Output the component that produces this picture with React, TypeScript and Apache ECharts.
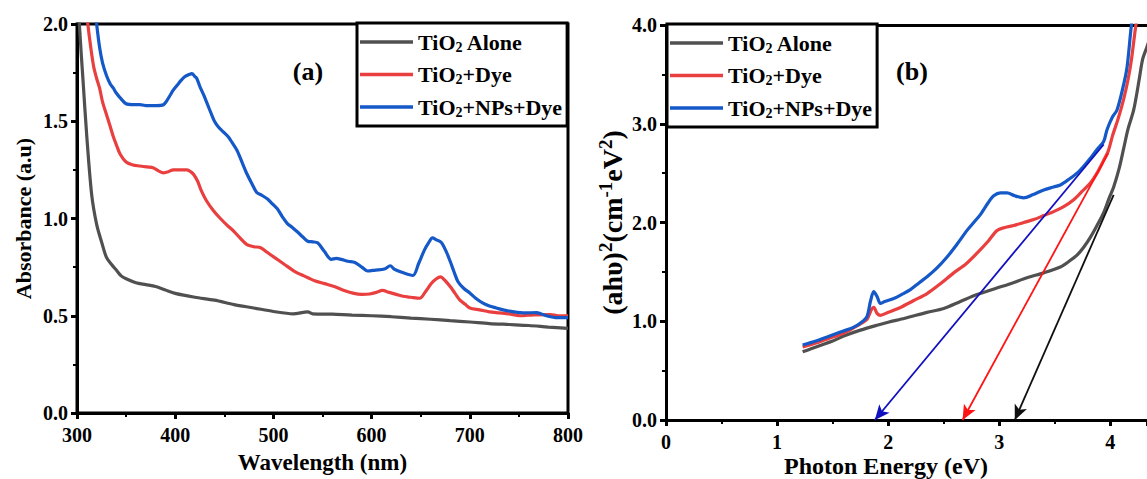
import React, { useEffect, useRef } from "react";
import * as echarts from "echarts";

const FONT = '"Liberation Serif", "Times New Roman", serif';

const SERIES_NAMES = ["TiO2 Alone", "TiO2+Dye", "TiO2+NPs+Dye"];
const LEGEND_LABELS: Record<string, string> = {
  "TiO2 Alone": "{b|TiO}{s|2}{b| Alone}",
  "TiO2+Dye": "{b|TiO}{s|2}{b|+Dye}",
  "TiO2+NPs+Dye": "{b|TiO}{s|2}{b|+NPs+Dye}",
};
const COLORS = ["#505050", "#ea3f3f", "#1558c8"];
const ARROW_COLORS = ["#101010", "#ff1414", "#1010c0"];

// (a) UV-Vis absorbance: wavelength (nm) vs absorbance (a.u.)
const wlAlone = [300, 301, 303, 306, 310, 315, 320, 325, 330, 335, 340, 345, 350, 360, 370, 380, 390, 400, 420, 440, 460, 480, 500, 520, 535, 540, 560, 580, 600, 620, 640, 660, 680, 700, 720, 740, 760, 780, 800];
const absAlone = [2.5, 2.15, 1.95, 1.72, 1.42, 1.12, 0.97, 0.88, 0.8, 0.765, 0.735, 0.705, 0.69, 0.67, 0.66, 0.65, 0.632, 0.615, 0.595, 0.58, 0.557, 0.54, 0.522, 0.51, 0.52, 0.51, 0.508, 0.503, 0.5, 0.495, 0.488, 0.482, 0.475, 0.468, 0.46, 0.455, 0.45, 0.442, 0.435];

const wlDye = [309, 311, 314, 317, 320, 323, 326, 330, 334, 337, 340, 344, 350, 357, 364, 371, 378, 383, 388, 393, 398, 405, 412, 416, 419, 423, 426, 432, 439, 446, 453, 460, 466, 473, 480, 487, 494, 501, 511, 521, 531, 542, 552, 562, 572, 582, 590, 598, 605, 611, 618, 625, 632, 640, 649, 655, 661, 666, 670, 675, 680, 685, 690, 695, 700, 710, 720, 730, 740, 751, 765, 782, 790, 800];
const absDye = [2.1, 2.0, 1.88, 1.78, 1.72, 1.67, 1.6, 1.535, 1.47, 1.42, 1.38, 1.33, 1.29, 1.275, 1.27, 1.265, 1.26, 1.245, 1.235, 1.24, 1.25, 1.25, 1.25, 1.24, 1.225, 1.19, 1.15, 1.09, 1.04, 1.0, 0.965, 0.933, 0.9, 0.866, 0.855, 0.85, 0.825, 0.8, 0.765, 0.73, 0.705, 0.68, 0.665, 0.65, 0.63, 0.615, 0.61, 0.612, 0.62, 0.63, 0.62, 0.61, 0.6, 0.595, 0.59, 0.625, 0.667, 0.69, 0.7, 0.68, 0.65, 0.615, 0.58, 0.56, 0.54, 0.53, 0.52, 0.515, 0.51, 0.5, 0.505, 0.506, 0.5, 0.5];

const wlNPs = [318, 320, 323, 326, 330, 334, 337, 340, 344, 350, 357, 364, 372, 381, 388, 392, 395, 398, 402, 406, 410, 414, 417, 420, 422, 425, 429, 433, 437, 440, 444, 449, 454, 458, 463, 468, 473, 478, 483, 488, 494, 499, 504, 509, 514, 519, 524, 530, 535, 540, 545, 552, 559, 564, 569, 576, 583, 590, 596, 604, 613, 619, 623, 630, 642, 648, 654, 658, 662, 666, 671, 676, 680, 684, 688, 694, 700, 706, 713, 720, 727, 734, 745, 756, 768, 778, 789, 800];
const absNPs = [2.1, 2.0, 1.88, 1.8, 1.735, 1.69, 1.67, 1.645, 1.62, 1.59, 1.585, 1.585, 1.58, 1.58, 1.585, 1.61, 1.635, 1.66, 1.685, 1.71, 1.73, 1.74, 1.745, 1.73, 1.72, 1.68, 1.635, 1.585, 1.535, 1.5, 1.47, 1.445, 1.42, 1.39, 1.35, 1.29, 1.23, 1.18, 1.134, 1.12, 1.1, 1.075, 1.05, 1.01, 0.975, 0.955, 0.933, 0.905, 0.883, 0.88, 0.875, 0.83, 0.79, 0.795, 0.79, 0.78, 0.774, 0.75, 0.73, 0.735, 0.74, 0.757, 0.74, 0.725, 0.707, 0.77, 0.84, 0.875, 0.9, 0.89, 0.877, 0.83, 0.78, 0.725, 0.675, 0.64, 0.617, 0.59, 0.566, 0.55, 0.54, 0.53, 0.52, 0.515, 0.516, 0.5, 0.49, 0.49];

// (b) Tauc plot: photon energy (eV) vs (ahv)^2
const eAlone = [1.23, 1.3, 1.4, 1.5, 1.6, 1.75, 1.9, 2.0, 2.15, 2.35, 2.5, 2.65, 2.8, 2.96, 3.1, 3.25, 3.4, 3.55, 3.62, 3.7, 3.76, 3.82, 3.88, 3.94, 3.99, 4.03, 4.08, 4.12, 4.16, 4.21, 4.26, 4.29, 4.33, 4.38];
const tAlone = [0.69, 0.72, 0.76, 0.8, 0.85, 0.91, 0.96, 0.99, 1.03, 1.09, 1.13, 1.2, 1.27, 1.33, 1.38, 1.44, 1.49, 1.55, 1.6, 1.67, 1.75, 1.85, 1.97, 2.1, 2.25, 2.36, 2.55, 2.75, 2.95, 3.14, 3.45, 3.65, 3.78, 3.95];

const eDye = [1.23, 1.35, 1.5, 1.6, 1.7, 1.76, 1.81, 1.85, 1.87, 1.9, 1.93, 2.0, 2.11, 2.23, 2.35, 2.47, 2.59, 2.7, 2.8, 2.9, 2.98, 3.05, 3.13, 3.22, 3.31, 3.4, 3.49, 3.58, 3.67, 3.75, 3.82, 3.88, 3.94, 3.98, 4.02, 4.07, 4.12, 4.16, 4.19, 4.23, 4.26];
const tDye = [0.74, 0.78, 0.84, 0.88, 0.94, 0.98, 1.02, 1.12, 1.14, 1.08, 1.06, 1.09, 1.14, 1.21, 1.28, 1.38, 1.49, 1.58, 1.69, 1.81, 1.92, 1.95, 1.97, 2.0, 2.03, 2.07, 2.11, 2.16, 2.23, 2.32, 2.4, 2.5, 2.63, 2.72, 2.88, 3.05, 3.25, 3.45, 3.65, 4.0, 4.2];

const eNPs = [1.23, 1.35, 1.45, 1.57, 1.69, 1.76, 1.81, 1.84, 1.87, 1.9, 1.93, 1.97, 2.05, 2.12, 2.2, 2.28, 2.35, 2.44, 2.53, 2.62, 2.71, 2.77, 2.83, 2.9, 2.95, 3.01, 3.07, 3.14, 3.22, 3.3, 3.4, 3.49, 3.55, 3.63, 3.7, 3.76, 3.82, 3.88, 3.94, 3.97, 4.02, 4.06, 4.11, 4.15, 4.19, 4.22];
const tNPs = [0.76, 0.8, 0.84, 0.89, 0.94, 0.99, 1.05, 1.2, 1.3, 1.25, 1.18, 1.2, 1.23, 1.27, 1.32, 1.39, 1.45, 1.54, 1.65, 1.78, 1.92, 2.0, 2.08, 2.2, 2.27, 2.3, 2.3, 2.27, 2.25, 2.28, 2.33, 2.36, 2.38, 2.44, 2.5, 2.57, 2.65, 2.74, 2.82, 2.94, 3.07, 3.14, 3.35, 3.57, 4.0, 4.2];

// Extrapolation arrows [start, end] for each series (eV, (ahv)^2)
const arrowAlone = [[4.03, 2.28], [3.14, 0]];
const arrowDye = [[3.98, 2.7], [2.67, 0]];
const arrowNPs = [[3.94, 2.79], [1.88, 0]];

const E_MAX = 4.33;

const pairs = (xs: number[], ys: number[]) => xs.map((x, i) => [x, ys[i]]);

const tickLabel = (fmt?: (v: number) => string) => ({
  color: "#000",
  fontFamily: FONT,
  fontWeight: "bold" as const,
  fontSize: 20,
  formatter: fmt,
});

const axisCommon = {
  axisLine: { show: true, onZero: false, lineStyle: { color: "#000", width: 3 } },
  axisTick: { show: true, length: 6, lineStyle: { color: "#000", width: 3 } },
  minorTick: { show: true, splitNumber: 2, length: 4, lineStyle: { color: "#000", width: 2 } },
  splitLine: { show: false },
};

const legendRich = {
  b: { fontFamily: FONT, fontWeight: "bold" as const, fontSize: 22, color: "#000", lineHeight: 24 },
  s: { fontFamily: FONT, fontWeight: "bold" as const, fontSize: 14, color: "#000", padding: [10, 0, 0, 0], lineHeight: 14 },
};

const makeLegend = (left: number, top: number) => ({
  orient: "vertical" as const,
  left,
  top,
  data: SERIES_NAMES,
  icon: "rect",
  itemWidth: 53,
  itemHeight: 3.5,
  itemGap: 8.5,
  padding: [7, 5, 7, 3],
  borderColor: "#000",
  borderWidth: 3,
  backgroundColor: "#fff",
  selectedMode: false,
  formatter: (name: string) => LEGEND_LABELS[name],
  textStyle: { rich: legendRich, lineHeight: 24 },
});

const lineSeries = (name: string, idx: number, data: number[][], axis: number, arrow?: number[][]) => {
  const s: any = {
    name,
    type: "line",
    xAxisIndex: axis,
    yAxisIndex: axis,
    data,
    showSymbol: false,
    symbol: "none",
    smooth: 0.3,
    clip: true,
    lineStyle: { color: COLORS[idx], width: 3.2 },
    itemStyle: { color: COLORS[idx] },
    emphasis: { disabled: true },
  };
  if (arrow) {
    s.markLine = {
      silent: true,
      symbol: ["none", "arrow"],
      symbolSize: [10, 15],
      label: { show: false },
      emphasis: { disabled: true },
      lineStyle: { color: ARROW_COLORS[idx], width: 1.8, type: "solid" },
      data: [[{ coord: arrow[0] }, { coord: arrow[1] }]],
    };
  }
  return s;
};

export default function App() {
  const ref = useRef<HTMLDivElement>(null);
  useEffect(() => {
    document.body.style.margin = "0";
    if (!ref.current) return;
    const chart = echarts.init(ref.current, null, { renderer: "svg" });
    chart.setOption({
      animation: false,
      backgroundColor: "#fff",
      textStyle: { fontFamily: FONT },
      grid: [
        { left: 77, top: 24, width: 491, height: 399, show: true, borderColor: "#000", borderWidth: 3 },
        { left: 666, top: 25, width: 481, height: 395, show: false },
      ],
      xAxis: [
        {
          ...axisCommon,
          type: "value",
          gridIndex: 0,
          min: 300,
          max: 800,
          interval: 100,
          axisLabel: { ...tickLabel(), margin: 12 },
          name: "Wavelength (nm)",
          nameLocation: "middle",
          nameGap: 38,
          nameTextStyle: { fontFamily: FONT, fontWeight: "bold", fontSize: 23, color: "#000" },
        },
        {
          ...axisCommon,
          type: "value",
          gridIndex: 1,
          min: 0,
          max: E_MAX,
          interval: 1,
          axisLabel: { ...tickLabel(), margin: 12, showMaxLabel: false },
        },
        {
          type: "value",
          gridIndex: 1,
          position: "top",
          min: 0,
          max: E_MAX,
          interval: 1,
          axisLine: { show: true, onZero: false, lineStyle: { color: "#000", width: 3 } },
          axisTick: { show: false },
          axisLabel: { show: false },
          splitLine: { show: false },
        },
      ],
      yAxis: [
        {
          ...axisCommon,
          type: "value",
          gridIndex: 0,
          min: 0,
          max: 2,
          interval: 0.5,
          axisLabel: { ...tickLabel((v: number) => v.toFixed(1)), margin: 9 },
          name: "Absorbance (a.u)",
          nameLocation: "middle",
          nameGap: 43,
          nameTextStyle: { fontFamily: FONT, fontWeight: "bold", fontSize: 22, color: "#000" },
        },
        {
          ...axisCommon,
          type: "value",
          gridIndex: 1,
          min: 0,
          max: 4,
          interval: 1,
          axisLabel: { ...tickLabel((v: number) => v.toFixed(1)), margin: 9 },
          name: "{b|(ahυ)}{s|2}{b|(cm}{s|-1}{b|eV}{s|2}{b|)}",
          nameLocation: "middle",
          nameGap: 38,
          nameTextStyle: {
            color: "#000",
            rich: {
              b: { fontFamily: FONT, fontWeight: "bold", fontSize: 28, color: "#000", lineHeight: 30 },
              s: { fontFamily: FONT, fontWeight: "bold", fontSize: 19, color: "#000", padding: [0, 0, 13, 0], lineHeight: 19 },
            },
          },
        },
      ],
      legend: [makeLegend(357, 23), makeLegend(667, 24)],
      graphic: [
        {
          type: "text",
          x: 308,
          y: 71,
          style: { text: "(a)", font: `bold 26px ${FONT}`, fill: "#000", align: "center", verticalAlign: "middle", textAlign: "center", textVerticalAlign: "middle" },
        },
        {
          type: "text",
          x: 912,
          y: 71,
          style: { text: "(b)", font: `bold 26px ${FONT}`, fill: "#000", align: "center", verticalAlign: "middle", textAlign: "center", textVerticalAlign: "middle" },
        },
        {
          type: "text",
          x: 886,
          y: 454,
          style: { text: "Photon Energy (eV)", font: `bold 24px ${FONT}`, fill: "#000", align: "center", verticalAlign: "top", textAlign: "center", textVerticalAlign: "top" },
        },
      ],
      series: [
        lineSeries(SERIES_NAMES[0], 0, pairs(wlAlone, absAlone), 0),
        lineSeries(SERIES_NAMES[1], 1, pairs(wlDye, absDye), 0),
        lineSeries(SERIES_NAMES[2], 2, pairs(wlNPs, absNPs), 0),
        lineSeries(SERIES_NAMES[0], 0, pairs(eAlone, tAlone), 1, arrowAlone),
        lineSeries(SERIES_NAMES[1], 1, pairs(eDye, tDye), 1, arrowDye),
        lineSeries(SERIES_NAMES[2], 2, pairs(eNPs, tNPs), 1, arrowNPs),
      ],
    });
    return () => chart.dispose();
  }, []);
  return <div ref={ref} style={{ width: 1147, height: 479 }} />;
}
